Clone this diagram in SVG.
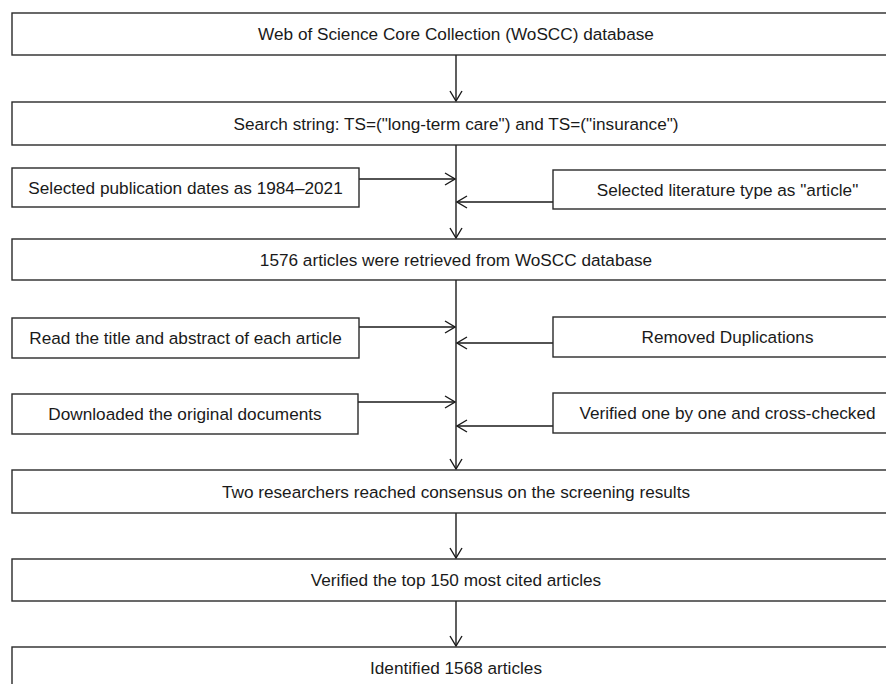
<svg xmlns="http://www.w3.org/2000/svg" width="886" height="684" viewBox="0 0 886 684">
<style>
.box{fill:#fff;stroke:#2a2a2a;stroke-width:1.4}
.lbl{font-family:"Liberation Sans",Arial,sans-serif;font-size:17.2px;fill:#1a1a1a;text-anchor:middle}
.ln{stroke:#1a1a1a;stroke-width:1.4;fill:none}
</style>
<defs>
<marker id="ah" viewBox="0 0 12 14" refX="11" refY="7" markerWidth="12" markerHeight="14" markerUnits="userSpaceOnUse" orient="auto">
<path d="M1,1 L11,7 L1,13" fill="none" stroke="#1a1a1a" stroke-width="1.4"/>
</marker>
</defs>
<rect width="886" height="684" fill="#fff"/>
<g id="connectors">
<line class="ln" x1="456" y1="55" x2="456" y2="101" marker-end="url(#ah)"/>
<line class="ln" x1="456" y1="145" x2="456" y2="238" marker-end="url(#ah)"/>
<line class="ln" x1="359" y1="179" x2="455" y2="179" marker-end="url(#ah)"/>
<line class="ln" x1="553" y1="202" x2="457" y2="202" marker-end="url(#ah)"/>
<line class="ln" x1="456" y1="280" x2="456" y2="469" marker-end="url(#ah)"/>
<line class="ln" x1="359" y1="327" x2="455" y2="327" marker-end="url(#ah)"/>
<line class="ln" x1="553" y1="343" x2="457" y2="343" marker-end="url(#ah)"/>
<line class="ln" x1="358" y1="402" x2="455" y2="402" marker-end="url(#ah)"/>
<line class="ln" x1="553" y1="426" x2="457" y2="426" marker-end="url(#ah)"/>
<line class="ln" x1="456" y1="513" x2="456" y2="558" marker-end="url(#ah)"/>
<line class="ln" x1="456" y1="601" x2="456" y2="646" marker-end="url(#ah)"/>
</g>
<g id="n1"><rect class="box" x="12" y="13" width="888" height="42"/><text class="lbl" x="456" y="40">Web of Science Core Collection (WoSCC) database</text></g>
<g id="n2"><rect class="box" x="12" y="102" width="888" height="43"/><text class="lbl" x="456" y="129.5">Search string: TS=("long-term care") and TS=("insurance")</text></g>
<g id="n3"><rect class="box" x="12" y="168" width="347" height="39"/><text class="lbl" x="185.5" y="193.5">Selected publication dates as 1984–2021</text></g>
<g id="n4"><rect class="box" x="553" y="170" width="349" height="39"/><text class="lbl" x="727.5" y="195.5">Selected literature type as "article"</text></g>
<g id="n5"><rect class="box" x="12" y="239" width="888" height="41"/><text class="lbl" x="456" y="265.5">1576 articles were retrieved from WoSCC database</text></g>
<g id="n6"><rect class="box" x="12" y="318" width="347" height="40"/><text class="lbl" x="185.5" y="344">Read the title and abstract of each article</text></g>
<g id="n7"><rect class="box" x="553" y="317" width="349" height="40"/><text class="lbl" x="727.5" y="343">Removed Duplications</text></g>
<g id="n8"><rect class="box" x="12" y="394" width="346" height="40"/><text class="lbl" x="185" y="420">Downloaded the original documents</text></g>
<g id="n9"><rect class="box" x="553" y="393" width="349" height="40"/><text class="lbl" x="727.5" y="419">Verified one by one and cross-checked</text></g>
<g id="n10"><rect class="box" x="12" y="470" width="888" height="43"/><text class="lbl" x="456" y="497.5">Two researchers reached consensus on the screening results</text></g>
<g id="n11"><rect class="box" x="12" y="559" width="888" height="42"/><text class="lbl" x="456" y="586">Verified the top 150 most cited articles</text></g>
<g id="n12"><rect class="box" x="12" y="647" width="888" height="42"/><text class="lbl" x="456" y="674">Identified 1568 articles</text></g>
</svg>
